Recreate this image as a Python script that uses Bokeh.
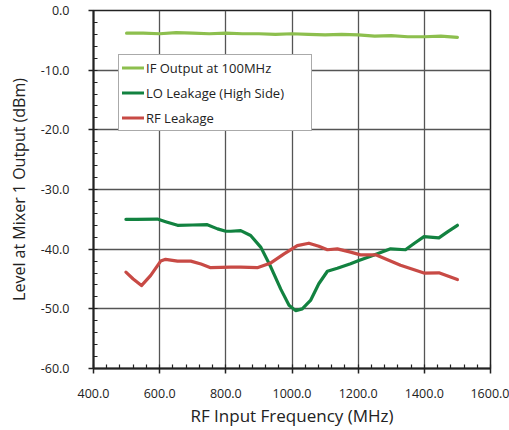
from bokeh.plotting import figure
from bokeh.models import NumeralTickFormatter, Legend, LegendItem, FixedTicker, Range1d
from bokeh.embed import file_html
from bokeh.resources import INLINE

# data
if_x = [500, 550, 600, 650, 700, 750, 800, 850, 900, 950, 1000, 1050, 1100, 1150, 1200, 1250, 1300, 1350, 1400, 1450, 1500]
if_y = [-3.8, -3.8, -3.9, -3.7, -3.8, -3.9, -3.8, -3.9, -3.9, -4.0, -3.9, -4.0, -4.1, -4.0, -4.1, -4.3, -4.2, -4.4, -4.4, -4.3, -4.5]

lo_x = [498, 530, 593, 618, 654, 700, 744, 775, 800, 815, 845, 875, 906, 936, 966, 991, 1011, 1031, 1056, 1081, 1107, 1137, 1177, 1202, 1238, 1298, 1343, 1370, 1399, 1444, 1470, 1500]
lo_y = [-35.0, -35.0, -34.95, -35.4, -36.0, -35.95, -35.9, -36.6, -37.0, -37.0, -36.9, -37.7, -39.7, -43.0, -46.7, -49.4, -50.3, -50.0, -48.6, -45.8, -43.7, -43.2, -42.45, -41.9, -41.2, -39.95, -40.1, -39.0, -37.9, -38.1, -37.1, -36.0]

rf_x = [498, 520, 545, 573, 603, 618, 654, 694, 725, 754, 815, 845, 895, 936, 976, 1016, 1051, 1081, 1107, 1137, 1177, 1207, 1253, 1328, 1399, 1444, 1500]
rf_y = [-43.85, -45.0, -46.1, -44.4, -42.0, -41.7, -42.0, -42.0, -42.5, -43.1, -43.0, -43.0, -43.1, -42.3, -40.8, -39.4, -39.0, -39.5, -40.1, -39.95, -40.5, -40.95, -40.95, -42.7, -44.0, -43.97, -45.1]

x_ticks = [400, 600, 800, 1000, 1200, 1400, 1600]
y_ticks = [-60, -50, -40, -30, -20, -10, 0]

FONT = "Open Sans"

p = figure(frame_width=397, frame_height=358, width=509, height=425,
           min_border_left=93, min_border_right=19, min_border_top=10, min_border_bottom=57,
           x_range=Range1d(400, 1600), y_range=Range1d(-60, 0),
           output_backend="svg", toolbar_location=None)
p.background_fill_color = "white"
p.border_fill_color = "white"
p.outline_line_color = "#222222"
p.outline_line_width = 1.5

for ax, ticks in ((p.xaxis[0], x_ticks), (p.yaxis[0], y_ticks)):
    ax.formatter = NumeralTickFormatter(format="0.0")
    ax.axis_line_color = "#222222"
    ax.axis_line_width = 2
    ax.major_tick_line_color = "#222222"
    ax.major_tick_line_width = 1.5
    ax.major_tick_out = 5
    ax.major_tick_in = 0
    ax.minor_tick_line_color = "#222222"
    ax.minor_tick_line_width = 1.2
    ax.minor_tick_in = 4
    ax.minor_tick_out = 0
    ax.major_label_text_font = FONT
    ax.major_label_text_font_size = "12.5px"
    ax.major_label_text_color = "#222222"
    ax.axis_label_text_font = FONT
    ax.axis_label_text_font_size = "17px"
    ax.axis_label_text_font_style = "normal"
    ax.axis_label_text_color = "#222222"

p.xaxis[0].ticker = FixedTicker(ticks=x_ticks, minor_ticks=list(range(400, 1601, 40)))
p.yaxis[0].ticker = FixedTicker(ticks=y_ticks, minor_ticks=list(range(-60, 1, 2)))
p.xaxis.axis_label = "RF Input Frequency (MHz)"
p.yaxis.axis_label = "Level at Mixer 1 Output (dBm)"
p.yaxis.axis_label_text_font_size = "16px"
p.xaxis.major_label_standoff = 15
p.yaxis.major_label_standoff = 19
p.xaxis.axis_label_standoff = 3
p.yaxis.axis_label_standoff = 8

p.xgrid.ticker = FixedTicker(ticks=x_ticks)
p.ygrid.ticker = FixedTicker(ticks=y_ticks)
p.grid.grid_line_color = "#555555"
p.grid.grid_line_width = 1.3

r_if = p.line(if_x, if_y, line_color="#8DBF4E", line_width=3.2, line_join="round", line_cap="round")
r_lo = p.line(lo_x, lo_y, line_color="#128240", line_width=3.2, line_join="round", line_cap="round")
r_rf = p.line(rf_x, rf_y, line_color="#C84A45", line_width=3.2, line_join="round", line_cap="round")

legend = Legend(items=[LegendItem(label="IF Output at 100MHz", renderers=[r_if]),
                       LegendItem(label="LO Leakage (High Side)", renderers=[r_lo]),
                       LegendItem(label="RF Leakage", renderers=[r_rf])],
                location=(25, 237), margin=0, padding=3, spacing=6,
                label_height=19, glyph_height=19, glyph_width=22, label_standoff=2,
                label_width=162,
                label_text_font=FONT, label_text_font_size="13px", label_text_color="#222222",
                border_line_color="#555555", border_line_width=1.2,
                background_fill_color="white", background_fill_alpha=1.0)
p.add_layout(legend, "center")

open("out.html", "w").write(file_html(p, INLINE))
